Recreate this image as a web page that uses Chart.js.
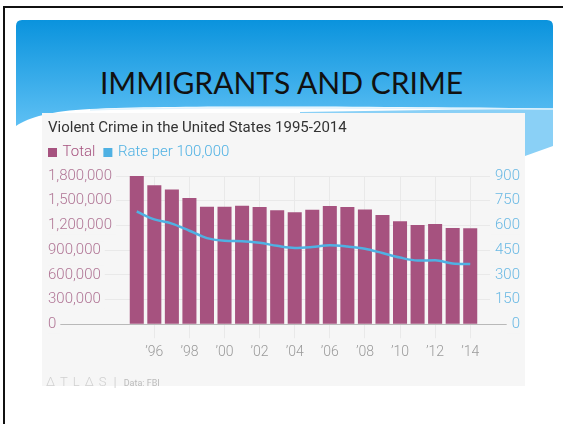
<!DOCTYPE html>
<html>
<head>
<meta charset="utf-8">
<script src="https://cdn.jsdelivr.net/npm/chart.js@4.4.1/dist/chart.umd.min.js"></script>
<style>
  html, body { margin: 0; padding: 0; background: #fff; }
  body { width: 563px; height: 424px; position: relative; overflow: hidden; }
  #frame { position: absolute; left: 3px; top: 6px; width: 570px; height: 430px;
           border-top: 2px solid #111; border-left: 2px solid #111; }
  #bg { position: absolute; left: 0; top: 0; }
  #heading { position: absolute; left: 0; width: 563px; top: 64px; text-align: center;
             font-family: Lato, "Open Sans", sans-serif; font-size: 30px; color: #111; }
  #panel { position: absolute; left: 42px; top: 113px; width: 483px; height: 273px; background: #f6f6f6; }
  #chartBox { position: absolute; left: 0; top: 0; width: 483px; height: 261px; }
  #footer { position: absolute; left: 4px; top: 258px; font-family: Roboto, sans-serif; color: #d0d0d0; white-space: nowrap; }
  #footer .brand { font-size: 13px; letter-spacing: 5px; font-weight: 300; }
  #footer .sep { font-size: 13px; margin: 0 7px 0 2px; color: #d5d5d5; }
  #footer .src { font-size: 9px; color: #bbb; }
</style>
</head>
<body>
<svg id="bg" width="563" height="424">
  <defs>
    <linearGradient id="hdr" x1="0" y1="0" x2="0" y2="1">
      <stop offset="0" stop-color="#0a93dd"/>
      <stop offset="1" stop-color="#5ec0f4"/>
    </linearGradient>
  </defs>
  <path d="M300,112 L553,108 L553,146 L525,156 L300,175 Z" fill="#8ad0f6"/>
  <path d="M16,26 Q16,20 22,20 L547,20 Q553,20 553,26 L553,108 C420,108 200,104 90,109 C50,111 30,117 16,126 Z" fill="url(#hdr)"/>
  <path d="M90,110 C200,105 420,109 553,109" stroke="#dff2fd" stroke-width="1.5" fill="none"/>
</svg>
<div id="frame"></div>
<div id="heading">IMMIGRANTS AND CRIME</div>
<div id="panel">
  <div id="chartBox"><canvas id="crimeChart"></canvas></div>
  <div id="footer"><span class="brand">ΔTLΔS</span><span class="sep">|</span><span class="src">Data: FBI</span></div>
</div>
<script>
// data
const years = [1995, 1996, 1997, 1998, 1999, 2000, 2001, 2002, 2003, 2004,
               2005, 2006, 2007, 2008, 2009, 2010, 2011, 2012, 2013, 2014];
const totalCrimes = [1798792, 1688540, 1636096, 1533887, 1426044, 1425486, 1439480, 1423677, 1383676, 1360088,
                     1390745, 1435123, 1422970, 1394461, 1325896, 1251248, 1206005, 1217057, 1168298, 1165383];
const ratePer100k = [684.5, 636.6, 611.0, 567.6, 523.0, 506.5, 504.5, 494.4, 475.8, 463.2,
                     469.0, 479.3, 471.8, 458.6, 431.9, 404.5, 387.1, 387.8, 369.1, 365.5];
const yearLabels = ['', '’96', '', '’98', '', '’00', '', '’02', '', '’04',
                    '', '’06', '', '’08', '', '’10', '', '’12', '', '’14'];
const totalTicks = [0, 300000, 600000, 900000, 1200000, 1500000, 1800000];
const rateTicks = [0, 150, 300, 450, 600, 750, 900];

const barColor = '#a6527f';
const lineColor = '#4fb1e3';
const leftTickColor = '#b07595';
const rightTickColor = '#6ab9e4';
const faintGrid = '#e9e9e9';

function docReady(){
    initCrimeChart();
}

function gridColor(ctx){
    return ctx.tick && ctx.tick.value === 0 ? '#b9b9b9' : faintGrid;
}

// nudge the legend up/left so it lines up under the title
const legendNudge = {
    id: 'legendNudge',
    afterLayout: function(chart){
        chart.legend.top -= 6;
        chart.legend.bottom -= 6;
        chart.legend.left -= 8;
    }
};

function initCrimeChart(){
    const ctx = document.getElementById('crimeChart').getContext('2d');
    var chart = new Chart(ctx, {
        data: {
            labels: years,
            datasets: [{
                type: 'line',
                label: 'Rate per 100,000',
                data: ratePer100k,
                yAxisID: 'yRate',
                borderColor: lineColor,
                borderWidth: 2.5,
                pointRadius: 0,
                cubicInterpolationMode: 'monotone',
                order: 0
            }, {
                type: 'bar',
                label: 'Total',
                data: totalCrimes,
                yAxisID: 'yTotal',
                backgroundColor: barColor,
                barPercentage: 0.8,
                categoryPercentage: 1.0,
                order: 1
            }]
        },
        plugins: [legendNudge],
        options: {
            responsive: true,
            maintainAspectRatio: false,
            animation: false,
            layout: {
                padding: { left: 6, right: 5, top: 2, bottom: 7 }
            },
            plugins: {
                title: {
                    display: true,
                    text: 'Violent Crime in the United States 1995-2014',
                    align: 'start',
                    color: '#333',
                    font: { family: 'Roboto', size: 15, weight: 'normal' },
                    padding: { top: 4, bottom: 4 }
                },
                legend: {
                    align: 'start',
                    labels: {
                        // small box + thick stroke: a 9px square sitting close to its text
                        boxWidth: 5,
                        boxHeight: 5,
                        padding: 10,
                        font: { family: 'Roboto', size: 15, weight: 300 },
                        generateLabels: function(){
                            return [
                                { text: 'Total', fillStyle: barColor, strokeStyle: barColor, lineWidth: 4, fontColor: barColor, datasetIndex: 1 },
                                { text: 'Rate per 100,000', fillStyle: lineColor, strokeStyle: lineColor, lineWidth: 4, fontColor: lineColor, datasetIndex: 0 }
                            ];
                        }
                    }
                },
                tooltip: { enabled: false }
            },
            scales: {
                x: {
                    grid: {
                        offset: false,
                        color: function(c){ return yearLabels[c.index] ? faintGrid : 'rgba(0,0,0,0)'; },
                        tickLength: 14
                    },
                    border: { display: false },
                    ticks: {
                        autoSkip: false,
                        maxRotation: 0,
                        padding: 6,
                        color: '#9a9a9a',
                        font: { family: 'Roboto', size: 14, weight: 300 },
                        callback: function(v, i){ return yearLabels[i]; }
                    }
                },
                yTotal: {
                    position: 'left',
                    min: totalTicks[0],
                    max: totalTicks[totalTicks.length - 1],
                    afterBuildTicks: function(s){ s.ticks = totalTicks.map(v => ({ value: v })); },
                    afterFit: function(s){ s.width = 80; },
                    grid: { color: gridColor, tickLength: 80 },
                    border: { display: false },
                    ticks: {
                        crossAlign: 'far',
                        color: leftTickColor,
                        font: { family: 'Roboto', size: 15, weight: 300 },
                        showLabelBackdrop: true,
                        backdropColor: '#f6f6f6',
                        backdropPadding: { left: 0, right: 4, top: 0, bottom: 0 },
                        callback: function(v){ return v.toLocaleString('en-US'); }
                    }
                },
                yRate: {
                    position: 'right',
                    min: rateTicks[0],
                    max: rateTicks[rateTicks.length - 1],
                    afterBuildTicks: function(s){ s.ticks = rateTicks.map(v => ({ value: v })); },
                    afterFit: function(s){ s.width = 41; },
                    grid: { drawOnChartArea: false, color: gridColor, tickLength: 41 },
                    border: { display: false },
                    ticks: {
                        crossAlign: 'far',
                        color: rightTickColor,
                        font: { family: 'Roboto', size: 15, weight: 300 },
                        showLabelBackdrop: true,
                        backdropColor: '#f6f6f6',
                        backdropPadding: { left: 5, right: 0, top: 0, bottom: 0 }
                    }
                }
            }
        }
    });
}

document.addEventListener('DOMContentLoaded', docReady);
</script>
</body>
</html>
